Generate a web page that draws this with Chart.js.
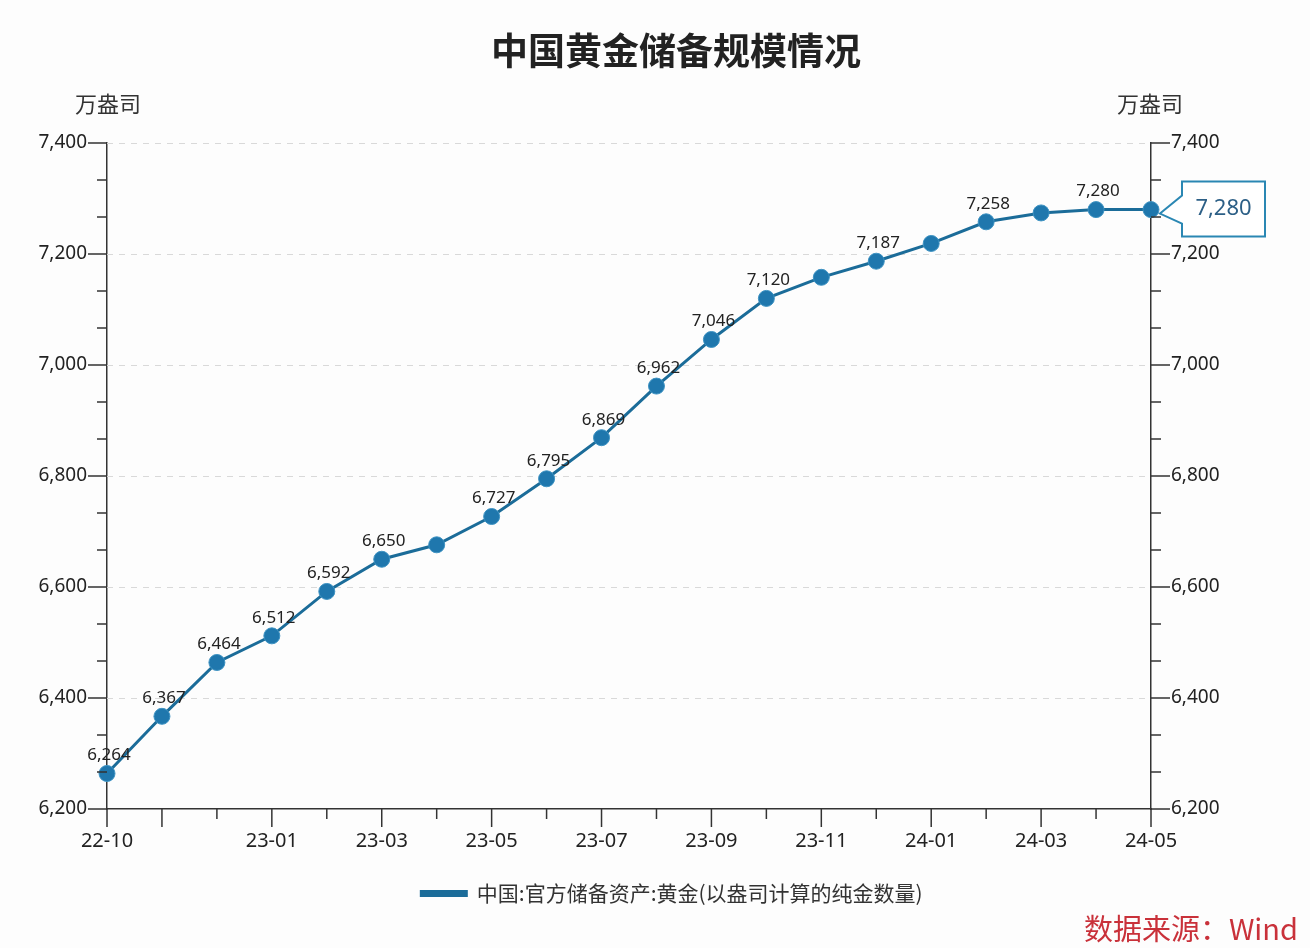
<!DOCTYPE html>
<html>
<head>
<meta charset="utf-8">
<script src="https://cdn.jsdelivr.net/npm/chart.js@4"></script>
<style>
  html, body { margin: 0; padding: 0; background: #fdfdfd; }
  #wrap { position: relative; width: 1310px; height: 948px; }
  canvas { position: absolute; left: 0; top: 0; }
  .txt { position: absolute; font-family: "Noto Sans CJK SC", "Noto Sans", sans-serif; color: #222; white-space: nowrap; }
  #title { left: 426px; width: 500px; top: 22px; text-align: center; font-size: 37px; font-weight: bold; }
  .unit { top: 86px; font-size: 22px; color: #333; }
  #source { right: 12px; top: 906px; font-size: 29px; color: #c9313a; }
</style>
</head>
<body>
<div id="wrap">
  <canvas id="goldChart" width="1310" height="948"></canvas>
  <div id="title" class="txt">中国黄金储备规模情况</div>
  <div class="txt unit" style="left:75px">万盎司</div>
  <div class="txt unit" style="left:1117px">万盎司</div>
  <div id="source" class="txt">数据来源：Wind</div>
</div>
<script>
// data
const months = ["22-10", "22-11", "22-12", "23-01", "23-02", "23-03", "23-04", "23-05", "23-06", "23-07",
  "23-08", "23-09", "23-10", "23-11", "23-12", "24-01", "24-02", "24-03", "24-04", "24-05"];
const goldReserves = [6264, 6367, 6464, 6512, 6592, 6650, 6676, 6727, 6795, 6869,
  6962, 7046, 7120, 7158, 7187, 7219, 7258, 7274, 7280, 7280];
const labelledMonths = ["22-10", "22-11", "22-12", "23-01", "23-02", "23-03", "23-05", "23-06", "23-07",
  "23-08", "23-09", "23-10", "23-12", "24-02", "24-04"];
const xTickLabels = ["22-10", "23-01", "23-03", "23-05", "23-07", "23-09", "23-11", "24-01", "24-03", "24-05"];
const yMin = 6200, yMax = 7400, yStep = 200;
const seriesName = "中国:官方储备资产:黄金(以盎司计算的纯金数量)";

const lineColor = "#1b6c99";
const numFont = '"Noto Sans", "Open Sans", sans-serif';
const fmt = v => v.toLocaleString("en-US");

// tick marks, dashed grid, value labels and the last-value callout
const decor = {
  id: "decor",
  beforeDatasetsDraw(chart) {
    const { ctx, chartArea: a, scales: { y } } = chart;
    ctx.save();
    ctx.strokeStyle = "#d9d9d9";
    ctx.lineWidth = 1;
    ctx.setLineDash([6, 6]);
    for (let v = yMin + yStep; v <= yMax; v += yStep) {
      const py = Math.round(y.getPixelForValue(v)) + 0.5;
      ctx.beginPath();
      ctx.moveTo(a.left, py);
      ctx.lineTo(a.right, py);
      ctx.stroke();
    }
    ctx.restore();
  },
  afterDraw(chart) {
    const { ctx, chartArea: a, scales: { x, y } } = chart;
    ctx.save();
    ctx.strokeStyle = "#333";
    ctx.lineWidth = 1.5;
    // x ticks
    months.forEach((m, i) => {
      const px = x.getPixelForValue(i);
      const len = (i === 0 || i % 2 === 1) ? 18 : 10;
      ctx.beginPath();
      ctx.moveTo(px, a.bottom);
      ctx.lineTo(px, a.bottom + len);
      ctx.stroke();
    });
    // y ticks, both sides, with minor ticks at thirds
    for (let k = 0; k <= (yMax - yMin) / yStep * 3; k++) {
      const py = y.getPixelForValue(yMin + k * yStep / 3);
      const len = k % 3 === 0 ? 19 : 10;
      ctx.beginPath();
      ctx.moveTo(a.left - len, py);
      ctx.lineTo(a.left, py);
      ctx.moveTo(a.right, py);
      ctx.lineTo(a.right + len, py);
      ctx.stroke();
    }
    // value labels
    const meta = chart.getDatasetMeta(0);
    ctx.fillStyle = "#222";
    ctx.font = "17px " + numFont;
    ctx.textAlign = "center";
    ctx.textBaseline = "middle";
    months.forEach((m, i) => {
      if (!labelledMonths.includes(m)) return;
      const pt = meta.data[i];
      ctx.fillText(fmt(goldReserves[i]), pt.x + 2, pt.y - 18);
    });
    // callout for the latest value
    const last = meta.data[meta.data.length - 1];
    const bx = last.x + 31, by = last.y - 28, bw = 83, bh = 55;
    ctx.beginPath();
    ctx.moveTo(bx, by);
    ctx.lineTo(bx + bw, by);
    ctx.lineTo(bx + bw, by + bh);
    ctx.lineTo(bx, by + bh);
    ctx.lineTo(bx, by + 42);
    ctx.lineTo(last.x + 9, last.y + 4);
    ctx.lineTo(bx, by + 14);
    ctx.closePath();
    ctx.fillStyle = "#fff";
    ctx.fill();
    ctx.strokeStyle = "#2a87b3";
    ctx.lineWidth = 2;
    ctx.stroke();
    ctx.fillStyle = "#2c5f86";
    ctx.font = "22px " + numFont;
    ctx.fillText(fmt(goldReserves[goldReserves.length - 1]), bx + bw / 2, by + bh / 2);
    ctx.restore();
  }
};

const ctx = document.getElementById("goldChart").getContext("2d");
new Chart(ctx, {
  type: "line",
  data: {
    labels: months,
    datasets: [{
      label: seriesName,
      data: goldReserves,
      borderColor: lineColor,
      backgroundColor: lineColor,
      borderWidth: 3,
      tension: 0,
      pointRadius: 8,
      pointBackgroundColor: "#1f77ad",
      pointBorderColor: "#3d92c2",
      pointBorderWidth: 1,
      clip: false
    }]
  },
  options: {
    responsive: false,
    animation: false,
    layout: { padding: { left: 34, right: 0, top: 143, bottom: 34 } },
    plugins: {
      legend: {
        position: "bottom",
        labels: {
          boxWidth: 45,
          boxHeight: 4,
          padding: 16,
          color: "#333",
          font: { size: 21, family: '"Noto Sans CJK SC", sans-serif' }
        }
      },
      tooltip: { enabled: false }
    },
    scales: {
      x: {
        grid: { display: false, drawTicks: false },
        border: { color: "#333", width: 1.5 },
        afterFit(s) { s.height = 58; },
        ticks: {
          autoSkip: false,
          maxRotation: 0,
          padding: 20,
          color: "#222",
          font: { size: 20, family: numFont },
          callback(v, i) { return xTickLabels.includes(months[i]) ? months[i] : ""; }
        }
      },
      y: {
        position: "left",
        min: yMin, max: yMax,
        grid: { display: false, drawTicks: false },
        border: { color: "#333", width: 1.5 },
        afterFit(s) { s.width = 73; },
        ticks: { stepSize: yStep, padding: 20, color: "#222", font: { size: 19, family: numFont }, callback: v => fmt(v) }
      },
      y2: {
        position: "right",
        min: yMin, max: yMax,
        grid: { display: false, drawTicks: false },
        border: { color: "#333", width: 1.5 },
        afterFit(s) { s.width = 159; },
        ticks: { stepSize: yStep, padding: 20, color: "#222", font: { size: 19, family: numFont }, callback: v => fmt(v) }
      }
    }
  },
  plugins: [decor]
});
</script>
</body>
</html>
